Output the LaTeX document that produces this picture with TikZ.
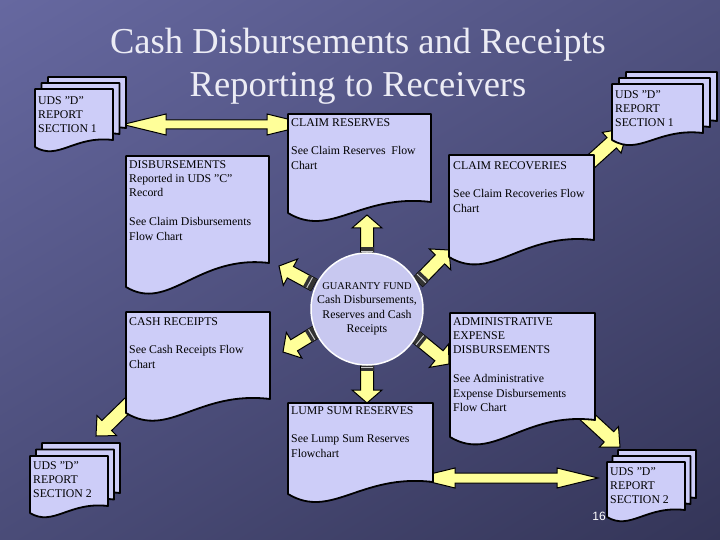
\documentclass[tikz,border=0pt]{standalone}
\usepackage{fontspec}
\setmainfont{Liberation Serif}
\setsansfont{Liberation Sans}
\usetikzlibrary{calc,shadings}
\definecolor{bgA}{RGB}{102,104,160}
\definecolor{bgB}{RGB}{80,82,128}
\definecolor{bgC}{RGB}{74,76,120}
\definecolor{bgD}{RGB}{52,53,88}
\definecolor{docfill}{RGB}{205,205,248}
\definecolor{circfill}{RGB}{200,200,240}
\definecolor{arrowy}{RGB}{255,255,153}
\definecolor{titlec}{RGB}{236,236,245}
\tikzset{
  doc/.style={fill=docfill, draw=black, line width=1.8pt, line join=round},
  arr/.style={fill=arrowy, draw=black, line width=1pt, line join=miter},
  txt/.style={anchor=north west, inner sep=0pt, align=left, font=\fontsize{11.8}{14.4}\selectfont, text=black},
}
\newcommand\docshape[6][]{%
  \draw[doc,#1] ({#2},{#3}) -- ({#4},{#3}) -- ({#4},{#6})
    .. controls ({(#2)+0.5*((#4)-(#2))},{(#6)-0.06*((#4)-(#2))}) and ({(#2)+0.3*((#4)-(#2))},{(#5)+0.18*((#4)-(#2))}) .. ({#2},{#5}) -- cycle;}
\newcommand\udsstack[6]{%
  \docshape{(#1)+2*(#5)}{(#2)-2*(#6)}{(#1)+2*(#5)+(#3)}{(#2)-2*(#6)+(#4)}{(#2)-2*(#6)+(#4)-7}
  \docshape{(#1)+(#5)}{(#2)-(#6)}{(#1)+(#5)+(#3)}{(#2)-(#6)+(#4)}{(#2)-(#6)+(#4)-7}
  \docshape{#1}{#2}{(#1)+(#3)}{(#2)+(#4)}{(#2)+(#4)-7}}
% block arrow: [opts] start tip shafthw headhw headlen
\newcommand\barrow[6][]{%
  \coordinate (hb) at ($(#3)!#6!(#2)$);
  \draw[arr,#1] ($(#2)!#4!90:(#3)$) -- ($(hb)!#4!90:(#3)$) -- ($(hb)!#5!90:(#3)$) -- (#3)
    -- ($(hb)!#5!-90:(#3)$) -- ($(hb)!#4!-90:(#3)$) -- ($(#2)!#4!-90:(#3)$) -- cycle;}
% double-headed horizontal arrow: left tip, right tip, shaft hw, head hw, head len
\newcommand\dbarrow[5]{%
  \draw[arr] (#1) -- ($(#1)+(#5,-#4)$) -- ($(#1)+(#5,-#3)$) -- ($(#2)+(-#5,-#3)$) -- ($(#2)+(-#5,-#4)$) -- (#2)
    -- ($(#2)+(-#5,#4)$) -- ($(#2)+(-#5,#3)$) -- ($(#1)+(#5,#3)$) -- ($(#1)+(#5,#4)$) -- cycle;}
\newcommand\carrow[2]{%
  \barrow{#1}{#2}{6.5pt}{15pt}{13pt}
  \coordinate (bb) at ($(#1)!9pt!(#2)$);
  \coordinate (bc) at ($(#1)!5pt!(#2)$);
  \fill[black!80] ($(#1)!6.5pt!90:(#2)$) -- ($(bb)!6.5pt!90:(#2)$) -- ($(bb)!6.5pt!-90:(#2)$) -- ($(#1)!6.5pt!-90:(#2)$) -- cycle;
  \draw[white!80!black, line width=1pt] ($(bc)!6pt!90:(#2)$) -- ($(bc)!6pt!-90:(#2)$);}
\begin{document}
\begin{tikzpicture}[x=1pt,y=-1pt]
\useasboundingbox (0,0) rectangle (720,540);
\shade[upper left=bgA, upper right=bgB, lower left=bgC, lower right=bgD] (0,0) rectangle (720,540);
% title
\node[font=\fontsize{36.5}{40}\selectfont, text=titlec] (title1) at (358,45) {Cash Disbursements and Receipts};
\node[font=\fontsize{36.5}{40}\selectfont, text=titlec] (title2) at (358,88) {Reporting to Receivers};
% connector end points
\coordinate (tl1) at (123,124.5);
\coordinate (tl2) at (310,124.5);
\coordinate (ls1) at (414,478);
\coordinate (ls2) at (598,478);
\coordinate (tr1) at (575,176);
\coordinate (tr2) at (628,128);
\coordinate (bl1) at (135,398);
\coordinate (bl2) at (96,436);
\coordinate (br1) at (582,412);
\coordinate (br2) at (620,447);
\coordinate (cu1) at (367,256);
\coordinate (cu2) at (367,215);
\coordinate (cd1) at (367,362);
\coordinate (cd2) at (367,403);
\coordinate (cul1) at (314,285);
\coordinate (cul2) at (279,266);
\coordinate (cur1) at (418,282);
\coordinate (cur2) at (449,250);
\coordinate (cll1) at (316,332);
\coordinate (cll2) at (283,352);
\coordinate (clr1) at (416,337);
\coordinate (clr2) at (449,364);
% connectors
\dbarrow{tl1}{tl2}{4.5}{10.5}{43}
\dbarrow{ls1}{ls2}{5}{10}{41}
\barrow{tr1}{tr2}{7pt}{14pt}{22pt}
\barrow{bl1}{bl2}{7pt}{14pt}{15pt}
\barrow{br1}{br2}{7pt}{14pt}{15pt}
\carrow{cu1}{cu2}
\carrow{cd1}{cd2}
\carrow{cul1}{cul2}
\carrow{cur1}{cur2}
\carrow{cll1}{cll2}
\carrow{clr1}{clr2}
% documents
\docshape{288}{114}{431}{213}{202}
\node[txt] (claimres) at (291,118) {CLAIM RESERVES\\[14.4pt]See Claim Reserves\ \ Flow\\Chart};
\docshape{126}{156}{269}{287}{263}
\node[txt] (disb) at (129,160) {DISBURSEMENTS\\Reported in UDS "C"\\Record\\[14.4pt]See Claim Disbursements\\Flow Chart};
\docshape{449}{155}{594}{257}{240}
\node[txt] (claimrec) at (453,161) {CLAIM RECOVERIES\\[14.4pt]See Claim Recoveries Flow\\Chart};
\docshape{126}{312}{270}{413}{399}
\node[txt] (cashrec) at (129,317) {CASH RECEIPTS\\[14.4pt]See Cash Receipts Flow\\Chart};
\docshape{450}{313}{595}{437}{420}
\node[txt] (admin) at (453,317) {ADMINISTRATIVE\\EXPENSE\\DISBURSEMENTS\\[14.4pt]See Administrative\\Expense Disbursements\\Flow Chart};
\docshape{288}{403}{433}{494}{482}
\node[txt] (lump) at (291,406) {LUMP SUM RESERVES\\[14.4pt]See Lump Sum Reserves\\Flowchart};
% report stacks
\udsstack{35}{89}{78}{58}{6.5}{6}
\node[txt] (uds1l) at (38,96) {UDS "D"\\REPORT\\SECTION 1};
\udsstack{612}{84}{91}{56}{7}{6}
\node[txt] (uds1r) at (615,90) {UDS "D"\\REPORT\\SECTION 1};
\udsstack{30}{456}{78}{57}{6}{6.5}
\node[txt] (uds2l) at (33,461) {UDS "D"\\REPORT\\SECTION 2};
\udsstack{607}{462}{78}{55}{5.5}{6}
\node[txt] (uds2r) at (610,467) {UDS "D"\\REPORT\\SECTION 2};
% centre
\node[circle, fill=circfill, draw=white, line width=1.5pt, minimum size=112pt, inner sep=0pt] (gf) at (367,309) {};
\node[align=center, inner sep=0pt, font=\fontsize{11.8}{14.4}\selectfont] (gftext) at (367,309) {{\fontsize{10.4}{14.4}\selectfont GUARANTY FUND}\\Cash Disbursements,\\Reserves and Cash\\Receipts};
\node[font=\sffamily\fontsize{12}{14}\selectfont, text=white] (pagenum) at (599,516) {16};
\end{tikzpicture}
\end{document}
